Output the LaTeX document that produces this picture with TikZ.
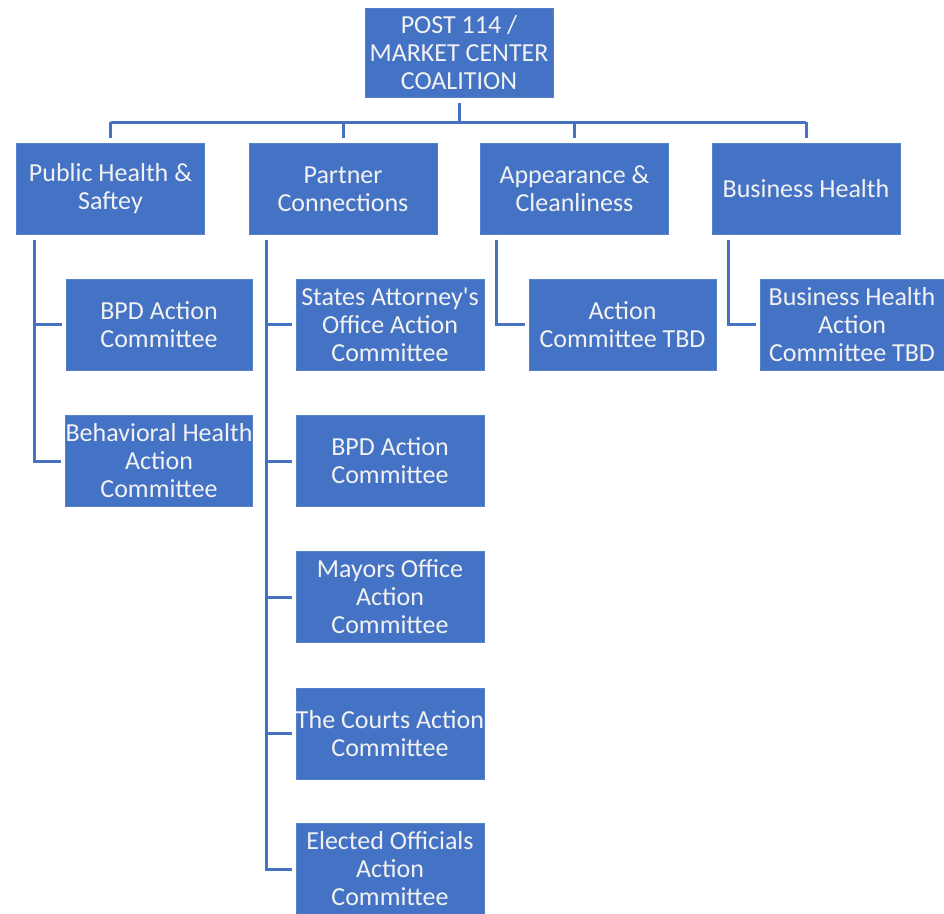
\documentclass[tikz,border=0pt]{standalone}
\usepackage{fontspec}
\setmainfont{Carlito}
\usepackage{tikz}
\definecolor{boxblue}{HTML}{4472C4}
\definecolor{lineblue}{HTML}{4672C2}
\definecolor{boxtext}{HTML}{F2F2F2}
\tikzset{
  unit/.style={draw=boxblue!90!white, line width=0.8pt, fill=boxblue, text=boxtext,
    minimum width=188pt, minimum height=91pt, inner sep=0pt, align=center,
    font=\fontsize{26}{28}\selectfont},
  link/.style={draw=lineblue, line width=3pt}
}
\begin{document}
\begin{tikzpicture}[x=1pt, y=-1pt]
				\useasboundingbox (0,0) rectangle (944,913);
				% top of the tree
				\node[unit, minimum height=89pt] (top) at (459,52.5) {POST 114 /\\MARKET CENTER\\COALITION};
				\node[unit] (ph) at (110.5,189) {Public Health \&\\Saftey};
				\node[unit] (pc) at (343,189) {Partner\\Connections};
				\node[unit] (ap) at (574.5,189) {Appearance \&\\Cleanliness};
				\node[unit] (bh) at (806,189) {Business Health};
				% committees
				\node[unit, minimum width=186pt] (ph1) at (159,324.5) {BPD Action\\Committee};
				\node[unit, minimum width=186pt] (ph2) at (159,461) {Behavioral Health\\Action\\Committee};
				\node[unit] (pc1) at (390,324.5) {States Attorney\textquotesingle s\\Office Action\\Committee};
				\node[unit] (pc2) at (390,461) {BPD Action\\Committee};
				\node[unit] (pc3) at (390,597) {Mayors Office\\Action\\Committee};
				\node[unit] (pc4) at (390,733.5) {The Courts Action\\Committee};
				\node[unit] (pc5) at (390,869) {Elected Officials\\Action\\Committee};
				\node[unit, minimum width=187pt] (ap1) at (622.5,324.5) {Action\\Committee TBD};
				\node[unit, minimum width=184pt] (bh1) at (852,324.5) {Business Health\\Action\\Committee TBD};
				% connectors
				\coordinate (bar) at (459,122);
				\draw[link] ([yshift=-6pt]top.south) -- (top.south |- bar);
				\draw[link] (ph.north |- bar) -- (bh.north |- bar);
				\foreach \n in {ph,pc,ap,bh}
					\draw[link] (\n.north |- bar) -- ([yshift=5pt]\n.north);
				\draw[link] ([xshift=18pt,yshift=-5pt]ph.south west) |- ([xshift=-4pt]ph2.west);
				\draw[link] ([xshift=18pt]ph.south west |- ph1.west) -- ([xshift=-4pt]ph1.west);
				\draw[link] ([xshift=18pt,yshift=-5pt]pc.south west) |- ([xshift=-4pt]pc5.west);
				\foreach \n in {pc1,pc2,pc3,pc4}
					\draw[link] ([xshift=18pt]pc.south west |- \n.west) -- ([xshift=-4pt]\n.west);
				\draw[link] ([xshift=16pt,yshift=-5pt]ap.south west) |- ([xshift=-4pt]ap1.west);
				\draw[link] ([xshift=17pt,yshift=-5pt]bh.south west) |- ([xshift=-4pt]bh1.west);
			\end{tikzpicture}
\end{document}
